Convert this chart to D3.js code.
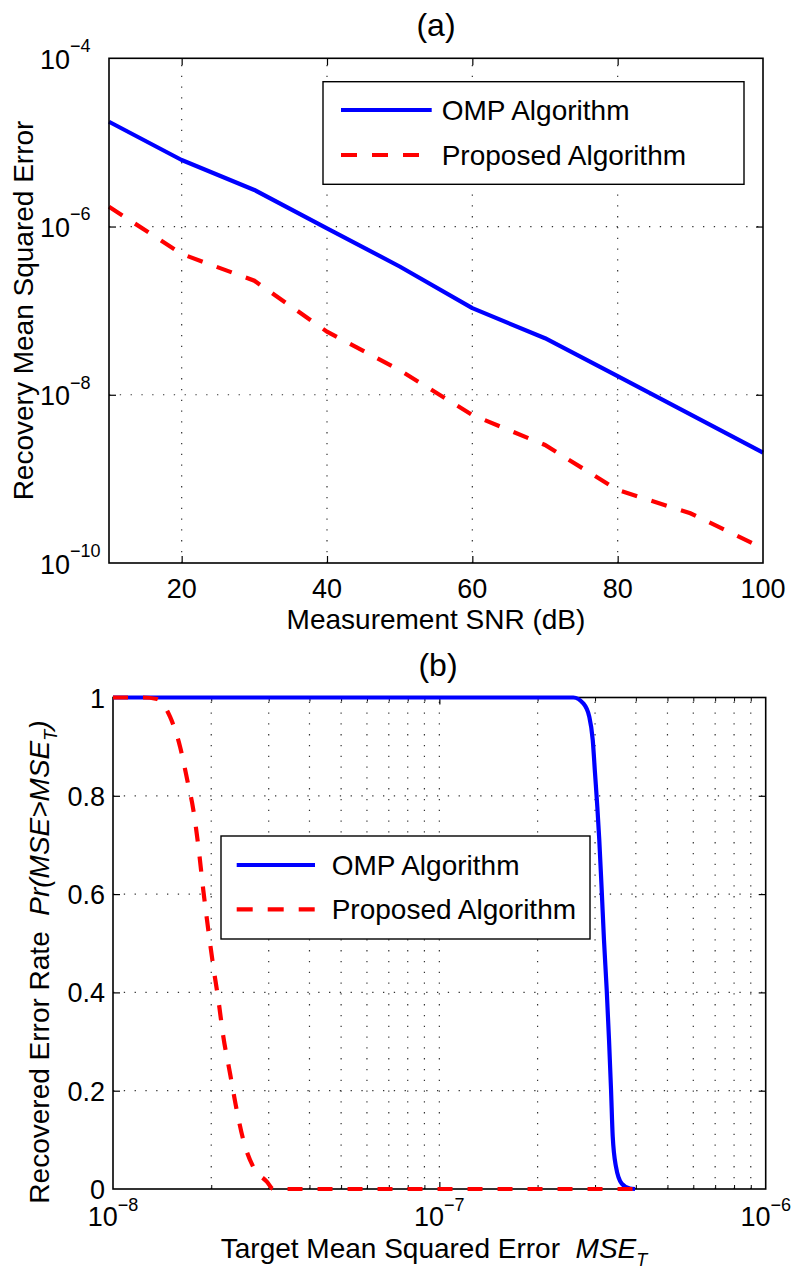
<!DOCTYPE html>
<html>
<head>
<meta charset="utf-8">
<script src="https://cdn.jsdelivr.net/npm/d3@7"></script>
<style>
  html, body { margin: 0; padding: 0; background: #fff; }
  svg text { font-family: "Liberation Sans", Arial, Helvetica, sans-serif; fill: #000; white-space: pre; }
</style>
</head>
<body>
<div id="chart"></div>
<script>
// panel (a): recovery MSE vs measurement SNR
const snrDb = [10, 20, 30, 40, 50, 60, 70, 80, 90, 100];
const ompMse = [1.76e-5, 6.18e-6, 2.72e-6, 9.53e-7, 3.35e-7, 1.07e-7, 4.70e-8, 1.67e-8, 5.86e-9, 2.05e-9];
const proposedMse = [1.72e-6, 4.72e-7, 2.27e-7, 5.62e-8, 1.96e-8, 5.75e-9, 2.53e-9, 7.38e-10, 3.9e-10, 1.5e-10];

// panel (b): Pr(MSE > MSE_T) vs target MSE
const ompTarget = [1e-8, 2.573e-7, 2.761e-7, 2.880e-7, 2.951e-7, 2.999e-7, 3.048e-7, 3.091e-7, 3.144e-7,
  3.195e-7, 3.257e-7, 3.311e-7, 3.358e-7, 3.398e-7, 3.478e-7, 3.621e-7, 3.838e-7, 3.977e-7];
const ompRate = [1, 1, 0.988, 0.961, 0.914, 0.846, 0.778, 0.710, 0.608,
  0.507, 0.405, 0.303, 0.202, 0.107, 0.045, 0.011, 0.001, 0];
const proposedTarget = [1e-8, 1.236e-8, 1.364e-8, 1.495e-8, 1.605e-8, 1.689e-8, 1.763e-8, 1.827e-8, 1.891e-8,
  1.959e-8, 2.030e-8, 2.103e-8, 2.178e-8, 2.284e-8, 2.393e-8, 2.507e-8, 2.69e-8, 2.96e-8, 3.10e-8, 3.977e-7];
const proposedRate = [1, 1, 0.997, 0.961, 0.900, 0.832, 0.771, 0.696, 0.608,
  0.527, 0.452, 0.385, 0.310, 0.235, 0.161, 0.100, 0.045, 0.015, 0, 0];

// ticks
const snrTicks = [20, 40, 60, 80, 100];
const mseExpTicks = [-10, -8, -6, -4];
const rateTicks = [0, 0.2, 0.4, 0.6, 0.8, 1];
const targetExpTicks = [-8, -7, -6];

const seriesNames = ["OMP Algorithm", "Proposed Algorithm"];
const BLUE = "#0000ff", RED = "#ff0000";

const width = 792, height = 1270;
const svg = d3.select("#chart").append("svg")
  .attr("width", width).attr("height", height)
  .attr("xmlns", "http://www.w3.org/2000/svg");

// scales
const xA = d3.scaleLinear().domain([10, 100]).range([109, 763]);
const yA = d3.scaleLog().domain([1e-10, 1e-4]).range([563, 58.3]);
const xB = d3.scaleLog().domain([1e-8, 1e-6]).range([113, 765.7]);
const yB = d3.scaleLinear().domain([0, 1]).range([1189, 697.5]);

function grid(g, x, y, xs, ys) {
  const [x0, x1] = x.range(), [y0, y1] = y.range();
  const gg = g.append("g").attr("stroke", "#333").attr("stroke-width", 1.2)
    .attr("stroke-dasharray", "1.3,9.5");
  gg.selectAll(".gv").data(xs).join("line")
    .attr("x1", d => x(d)).attr("x2", d => x(d)).attr("y1", y0).attr("y2", y1);
  gg.selectAll(".gh").data(ys).join("line")
    .attr("y1", d => y(d)).attr("y2", d => y(d)).attr("x1", x0).attr("x2", x1);
}

function ticks(g, x, y, xs, ys, len) {
  const [x0, x1] = x.range(), [y0, y1] = y.range();
  const strip = s => s.call(a => a.select(".domain").remove())
    .call(a => a.selectAll("line").attr("stroke", "#000").attr("stroke-width", 1.2));
  g.append("g").attr("transform", `translate(0,${y0})`)
    .call(d3.axisBottom(x).tickValues(xs).tickSizeInner(-len).tickSizeOuter(0).tickFormat("")).call(strip);
  g.append("g").attr("transform", `translate(0,${y1})`)
    .call(d3.axisTop(x).tickValues(xs).tickSizeInner(-len).tickSizeOuter(0).tickFormat("")).call(strip);
  g.append("g").attr("transform", `translate(${x0},0)`)
    .call(d3.axisLeft(y).tickValues(ys).tickSizeInner(-len).tickSizeOuter(0).tickFormat("")).call(strip);
  g.append("g").attr("transform", `translate(${x1},0)`)
    .call(d3.axisRight(y).tickValues(ys).tickSizeInner(-len).tickSizeOuter(0).tickFormat("")).call(strip);
}

function frame(g, x, y) {
  const [x0, x1] = x.range(), [y0, y1] = y.range();
  g.append("rect").attr("x", x0).attr("y", y1).attr("width", x1 - x0).attr("height", y0 - y1)
    .attr("fill", "none").attr("stroke", "#000").attr("stroke-width", 1.6);
}

function legend(g, box, sampleX, textX, rows) {
  g.append("rect").attr("x", box[0]).attr("y", box[1]).attr("width", box[2] - box[0]).attr("height", box[3] - box[1])
    .attr("fill", "#fff").attr("stroke", "#000").attr("stroke-width", 1.4);
  rows.forEach((r, i) => {
    g.append("line").attr("x1", sampleX[0]).attr("x2", sampleX[1]).attr("y1", r.y).attr("y2", r.y)
      .attr("stroke", r.color).attr("stroke-width", 4.2).attr("stroke-dasharray", r.dash || null);
    g.append("text").attr("x", textX).attr("y", r.y + 10).attr("font-size", 28).text(seriesNames[i]);
  });
}

// ---------- panel (a) ----------
const gA = svg.append("g");
gA.append("rect").attr("x", 109).attr("y", 58.3).attr("width", 654).attr("height", 504.7).attr("fill", "#fff");
grid(gA, xA, yA, [20, 40, 60, 80], [1e-8, 1e-6]);
ticks(gA, xA, yA, [20, 40, 60, 80], [1e-8, 1e-6], 7);

const lineA = (ys) => d3.line().x((d, i) => xA(snrDb[i])).y(d => yA(d))(ys);
gA.append("path").attr("d", lineA(ompMse)).attr("fill", "none")
  .attr("stroke", BLUE).attr("stroke-width", 4.2).attr("stroke-linejoin", "round");
gA.append("path").attr("d", lineA(proposedMse)).attr("fill", "none")
  .attr("stroke", RED).attr("stroke-width", 4.2).attr("stroke-dasharray", "16,15");
frame(gA, xA, yA);

legend(gA, [323, 81.7, 744, 184.3], [341, 431.7], 441.7, [
  { y: 110, color: BLUE },
  { y: 155, color: RED, dash: "16,15" }
]);

gA.selectAll(".xt").data(snrTicks).join("text")
  .attr("x", d => xA(d)).attr("y", 597.5).attr("text-anchor", "middle").attr("font-size", 27).text(d => d);
mseExpTicks.forEach(e => {
  const t = gA.append("text").attr("x", 40).attr("y", yA(Math.pow(10, e)) + 10.5).attr("font-size", 27);
  t.append("tspan").text("10");
  t.append("tspan").attr("font-size", 18).attr("dy", -16.6).text("\u2212" + (-e));
});
gA.append("text").attr("x", 436).attr("y", 629).attr("text-anchor", "middle").attr("font-size", 28)
  .text("Measurement SNR (dB)");
gA.append("text").attr("transform", "translate(33,310.5) rotate(-90)").attr("text-anchor", "middle")
  .attr("font-size", 28).text("Recovery Mean Squared Error");
gA.append("text").attr("x", 436).attr("y", 36).attr("text-anchor", "middle").attr("font-size", 32).text("(a)");

// ---------- panel (b) ----------
const gB = svg.append("g");
const minorB = [];
[-8, -7].forEach(e => { for (let k = 2; k <= 9; k++) minorB.push(k * Math.pow(10, e)); });
const majorB = [1e-7];
grid(gB, xB, yB, minorB.concat(majorB), [0.2, 0.4, 0.6, 0.8]);
ticks(gB, xB, yB, majorB, [0.2, 0.4, 0.6, 0.8], 7);
// minor log ticks
gB.append("g").attr("transform", `translate(0,${yB(0)})`)
  .call(d3.axisBottom(xB).tickValues(minorB).tickSizeInner(-4).tickSizeOuter(0).tickFormat(""))
  .call(a => a.select(".domain").remove());
gB.append("g").attr("transform", `translate(0,${yB(1)})`)
  .call(d3.axisTop(xB).tickValues(minorB).tickSizeInner(-4).tickSizeOuter(0).tickFormat(""))
  .call(a => a.select(".domain").remove());
frame(gB, xB, yB);

const lineB = (xs, ys) => d3.line().curve(d3.curveMonotoneX).x((d, i) => xB(xs[i])).y(d => yB(d))(ys);
gB.append("path").attr("d", lineB(ompTarget, ompRate)).attr("fill", "none")
  .attr("stroke", BLUE).attr("stroke-width", 4.2).attr("stroke-linejoin", "round");
gB.append("path").attr("d", lineB(proposedTarget, proposedRate)).attr("fill", "none")
  .attr("stroke", RED).attr("stroke-width", 4.2).attr("stroke-dasharray", "15,15");

legend(gB, [221, 836, 590, 939], [236.7, 315], 331.7, [
  { y: 865, color: BLUE },
  { y: 909.3, color: RED, dash: "16,15" }
]);

gB.selectAll(".yt").data(rateTicks).join("text")
  .attr("x", 105).attr("y", d => yB(d) + 10).attr("text-anchor", "end").attr("font-size", 27)
  .text(d => d3.format("~g")(d));
targetExpTicks.forEach(e => {
  const t = gB.append("text").attr("x", xB(Math.pow(10, e))).attr("y", 1226)
    .attr("text-anchor", "middle").attr("font-size", 27);
  t.append("tspan").text("10");
  t.append("tspan").attr("font-size", 18).attr("dy", -15).text("\u2212" + (-e));
});
const xl = gB.append("text").attr("x", 434).attr("y", 1258).attr("text-anchor", "middle").attr("font-size", 28);
xl.append("tspan").text("Target Mean Squared Error  ");
xl.append("tspan").attr("font-style", "italic").text("MSE");
xl.append("tspan").attr("font-style", "italic").attr("font-size", 18).attr("dy", 8).text("T");

const yl = gB.append("text").attr("transform", "translate(49,962) rotate(-90)")
  .attr("text-anchor", "middle").attr("font-size", 28);
yl.append("tspan").text("Recovered Error Rate  ");
yl.append("tspan").attr("font-style", "italic").text("Pr(MSE>MSE");
yl.append("tspan").attr("font-style", "italic").attr("font-size", 18).attr("dy", 8).text("T");
yl.append("tspan").attr("font-style", "italic").attr("dy", -8).text(")");

gB.append("text").attr("x", 438).attr("y", 676).attr("text-anchor", "middle").attr("font-size", 32).text("(b)");
</script>
</body>
</html>
